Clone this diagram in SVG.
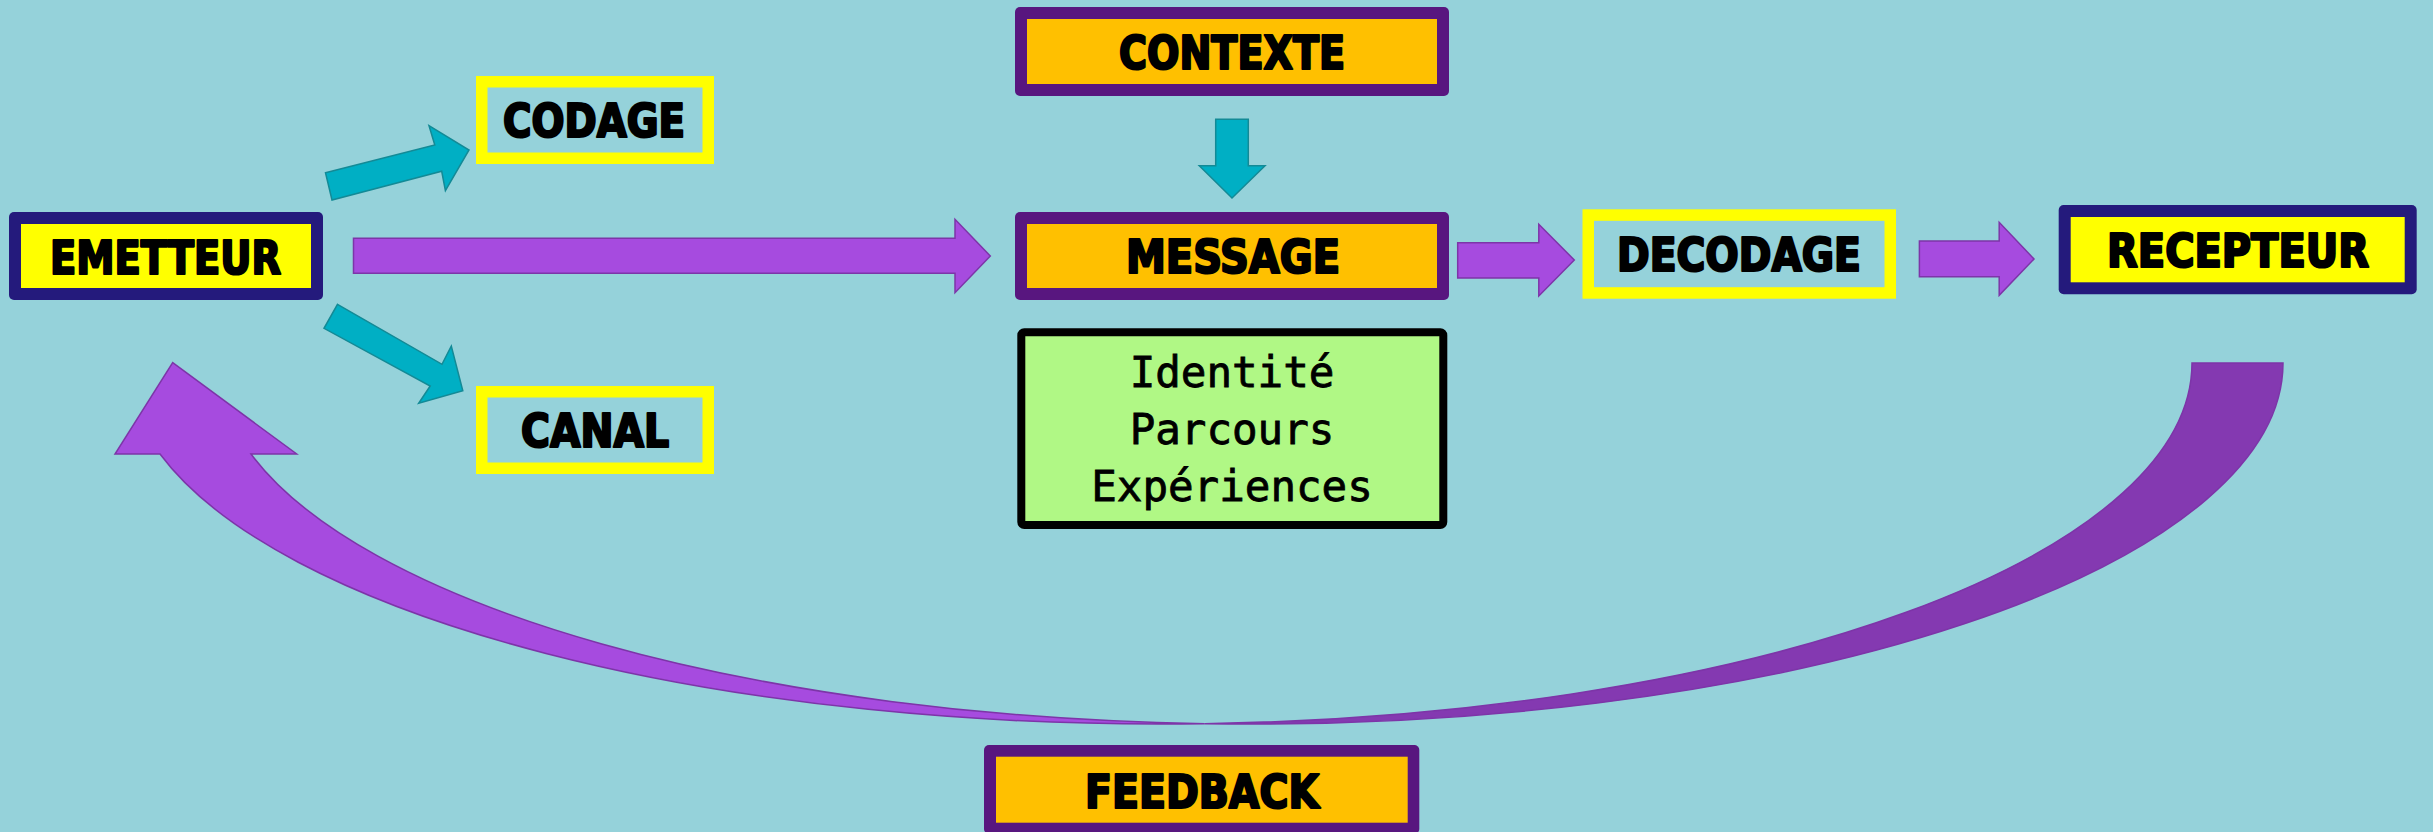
<svg xmlns="http://www.w3.org/2000/svg" width="2433" height="832" viewBox="0 0 2433 832">
  <style>
    .frame-navy { fill: #241A7C; }
    .frame-purple { fill: #58167F; }
    .frame-yellow { fill: #FFFF00; }
    .fill-yellow { fill: #FFFF00; }
    .fill-orange { fill: #FFC000; }
    .fill-bg { fill: #95D2DA; }
    .label { font-family: "Liberation Sans Narrow", "DejaVu Sans Condensed", "Liberation Sans", sans-serif;
             font-weight: bold; font-size: 46px; fill: #000; stroke: #000; stroke-width: 2.2; stroke-linejoin: round; }
    .mono { font-family: "DejaVu Sans Mono", "Liberation Mono", monospace; font-size: 42.5px; fill: #000;
            stroke: #000; stroke-width: 0.8; text-anchor: middle; }
    .arrow-teal { fill: #00AFC4; stroke: #138A96; stroke-width: 1.5; stroke-linejoin: miter; }
    .arrow-purple { fill: #A64BDF; stroke: #7D35A8; stroke-width: 1.5; stroke-linejoin: miter; }
    .arrow-purple-dark { fill: #8439B1; stroke: #7D35A8; stroke-width: 1.5; }
  </style>

  <!-- background -->
  <rect x="0" y="0" width="2433" height="832" fill="#95D2DA"/>

  <!-- connectors -->
  <g id="connectors">
    <!-- feedback loop: crescent between two offset ellipses, head on the left -->
    <path id="feedback-loop-tail" class="arrow-purple-dark"
          d="M2283,363 A1032.7,361 0 0 1 1204.8,723.65 A1032.7,361 0 0 0 2192,363 Z"/>
    <path id="feedback-loop-head" class="arrow-purple"
          d="M172.7,362.7 L296.7,454 L251,454 A1032.7,361 0 0 0 1204.8,723.65 A1032.7,361 0 0 1 160,454 L115,454 Z"/>

    <!-- emetteur -> codage -->
    <polygon class="arrow-teal" points="325.5,172.7 434.8,145 429,125.7 469,150 445.4,190.7 441.7,171.3 332,200"/>
    <!-- emetteur -> canal -->
    <polygon class="arrow-teal" points="337.5,304.3 442,364.3 451.3,346 462.8,390.7 418.7,403.3 430.2,386 324,328.3"/>
    <!-- contexte -> message -->
    <polygon class="arrow-teal" points="1215.7,119.3 1248.3,119.3 1248.3,165.7 1265,165.7 1232,198 1199.3,165.7 1215.7,165.7"/>

    <!-- emetteur -> message -->
    <polygon class="arrow-purple" points="353.5,238.3 955,238.3 955,219.3 990.3,256 955,292.7 955,273.3 353.5,273.3"/>
    <!-- message -> decodage -->
    <polygon class="arrow-purple" points="1457.7,242.7 1538.8,242.7 1538.8,224.3 1574.3,260 1538.8,296 1538.8,278 1457.7,278"/>
    <!-- decodage -> recepteur -->
    <polygon class="arrow-purple" points="1919.4,241 1999.2,241 1999.2,222.3 2034,259 1999.2,295.3 1999.2,276.7 1919.4,276.7"/>
  </g>

  <g id="emetteur">
    <rect class="frame-navy" x="9" y="212" width="314" height="88" rx="5"/>
    <rect class="fill-yellow" x="21" y="224" width="290" height="64"/>
    <text class="label" x="50" y="274" textLength="231" lengthAdjust="spacingAndGlyphs">EMETTEUR</text>
  </g>

  <g id="codage">
    <rect class="frame-yellow" x="476" y="76" width="238" height="88"/>
    <rect class="fill-bg" x="487.5" y="87.5" width="215" height="65"/>
    <text class="label" x="503" y="137" textLength="182" lengthAdjust="spacingAndGlyphs">CODAGE</text>
  </g>

  <g id="canal">
    <rect class="frame-yellow" x="476" y="386" width="238" height="88"/>
    <rect class="fill-bg" x="487.5" y="397.5" width="215" height="65"/>
    <text class="label" x="521" y="447" textLength="148" lengthAdjust="spacingAndGlyphs">CANAL</text>
  </g>

  <g id="contexte">
    <rect class="frame-purple" x="1015" y="7" width="434" height="89" rx="5"/>
    <rect class="fill-orange" x="1027" y="19" width="410" height="65"/>
    <text class="label" x="1119" y="68.5" textLength="226" lengthAdjust="spacingAndGlyphs">CONTEXTE</text>
  </g>

  <g id="message">
    <rect class="frame-purple" x="1015" y="212" width="434" height="88" rx="5"/>
    <rect class="fill-orange" x="1027" y="224" width="410" height="64"/>
    <text class="label" x="1126" y="273" textLength="214" lengthAdjust="spacingAndGlyphs">MESSAGE</text>
  </g>

  <g id="details">
    <rect x="1021.3" y="332.3" width="422" height="192.7" rx="3" fill="#B0F885" stroke="#000" stroke-width="8"/>
    <text class="mono" x="1232" y="387">Identité</text>
    <text class="mono" x="1232" y="444">Parcours</text>
    <text class="mono" x="1232" y="501">Expériences</text>
  </g>

  <g id="decodage">
    <rect class="frame-yellow" x="1582.5" y="209.3" width="313.5" height="89.4"/>
    <rect class="fill-bg" x="1594" y="220.8" width="290.5" height="66.4"/>
    <text class="label" x="1617" y="271" textLength="244" lengthAdjust="spacingAndGlyphs">DECODAGE</text>
  </g>

  <g id="recepteur">
    <rect class="frame-navy" x="2058.7" y="205" width="358" height="89.3" rx="5"/>
    <rect class="fill-yellow" x="2070.7" y="217" width="334" height="65.3"/>
    <text class="label" x="2107" y="267" textLength="262" lengthAdjust="spacingAndGlyphs">RECEPTEUR</text>
  </g>

  <g id="feedback">
    <rect class="frame-purple" x="984" y="745" width="435.3" height="89" rx="5"/>
    <rect class="fill-orange" x="996" y="756.7" width="411.7" height="66"/>
    <text class="label" x="1085" y="807.5" textLength="234" lengthAdjust="spacingAndGlyphs">FEEDBACK</text>
  </g>
</svg>
